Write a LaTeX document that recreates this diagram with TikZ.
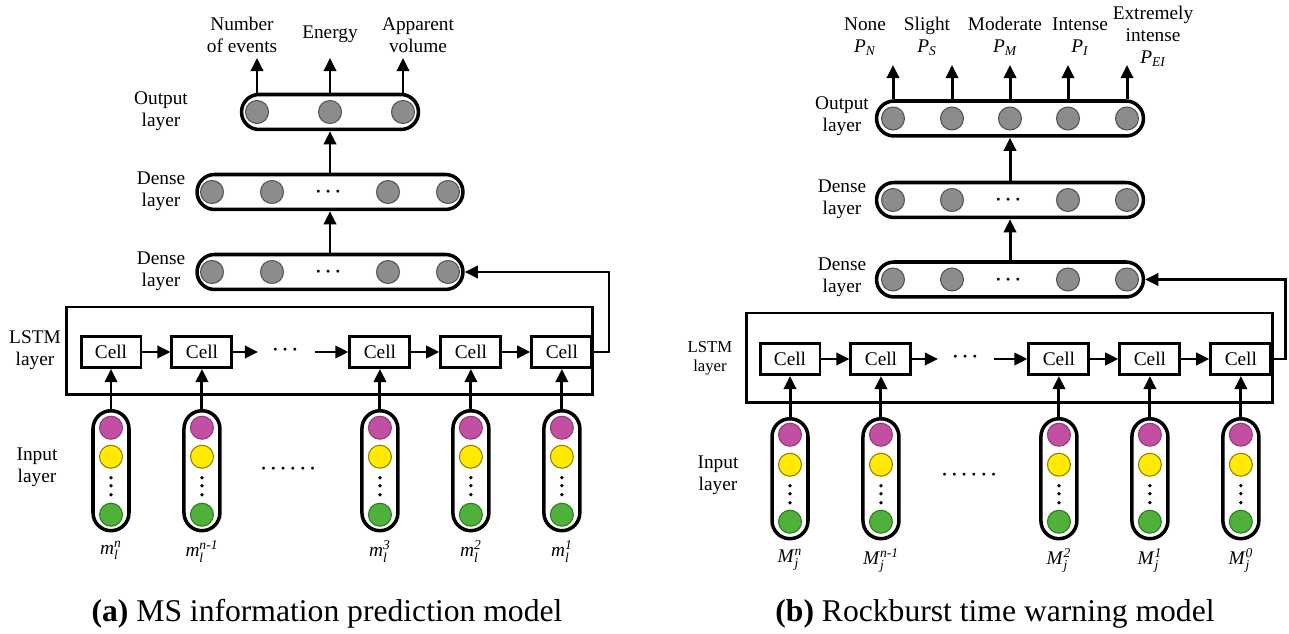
\documentclass[tikz,border=0pt]{standalone}
\usepackage{amsmath,amssymb}
\usepackage{fontspec}
\setmainfont{Liberation Serif}
\usepackage{xcolor}
\usepackage{tikz}
\usetikzlibrary{arrows.meta, positioning, calc}
\definecolor{neurongray}{HTML}{8C8C8C}
\definecolor{neuronedge}{HTML}{505050}
\definecolor{inmagenta}{HTML}{C24FA2}
\definecolor{inmagentaedge}{HTML}{8E3A78}
\definecolor{inyellow}{HTML}{FFEA00}
\definecolor{inyellowedge}{HTML}{8F8000}
\definecolor{ingreen}{HTML}{4FB03A}
\definecolor{ingreenedge}{HTML}{2F7A22}
\tikzstyle{layerpill} = [rectangle, rounded corners=0.35cm, draw=black, line width=2pt, minimum height=0.7cm]
\tikzstyle{neuron} = [circle, fill=neurongray, draw=neuronedge, line width=0.6pt, minimum size=0.46cm, inner sep=0pt]
\tikzstyle{cellbox} = [rectangle, draw=black, line width=1.7pt, minimum width=1.2cm, minimum height=0.62cm,
  inner sep=0pt, font=\fontsize{11}{12.5}\selectfont]
\tikzstyle{lstmbox} = [rectangle, draw=black, line width=1.7pt, minimum width=10.54cm]
\tikzstyle{inpill} = [rectangle, rounded corners=0.36cm, draw=black, line width=2pt, minimum width=0.72cm, minimum height=2.4cm]
\tikzstyle{indot} = [circle, minimum size=0.46cm, inner sep=0pt, line width=0.6pt]
\tikzstyle{vdot} = [circle, fill=black, minimum size=0.075cm, inner sep=0pt]
\tikzstyle{layertext} = [align=center, font=\fontsize{11}{12.5}\selectfont, inner sep=0pt]
\tikzstyle{captext} = [font=\fontsize{18}{20}\selectfont, inner sep=0pt, anchor=base]
\tikzstyle{arrow} = [line width=1.7pt, -{Triangle[length=7.5pt, width=7pt]}]

\begin{document}
\begin{tikzpicture}[x=0.02cm, y=-0.02cm]
  \useasboundingbox (0,0) rectangle (1289,634);

  % (a) MS information prediction model
  \node (oa) [layerpill, minimum width=3.54cm] at (330,112) {};
  \foreach \k/\dx in {1/-73,2/0,3/73}
    \node (oa\k) [neuron] at ($(oa)+(\dx,0)$) {};
  \node (dba) [layerpill, minimum width=5.32cm] at (330,192) {};
  \node (daa) [layerpill, minimum width=5.32cm] at (330,272) {};
  \foreach \k/\dx in {1/-118,2/-58,3/58,4/118} {
    \node (dba\k) [neuron] at ($(dba)+(\dx,0)$) {};
    \node (daa\k) [neuron] at ($(daa)+(\dx,0)$) {};
  }
  \node (dbadots) [layertext] at (dba) {$\boldsymbol{\cdots}$};
  \node (daadots) [layertext] at (daa) {$\boldsymbol{\cdots}$};

  \node (lna1) [layertext] at (242,35) {Number\\of events};
  \node (lna2) [layertext] at (330,34) {Energy};
  \node (lna3) [layertext] at (418,35) {Apparent\\volume};
  \coordinate (tipa) at (0,58);
  \foreach \k in {1,2,3}
    \draw[arrow] (oa\k |- oa.north) -- (oa\k |- tipa);
  \draw[arrow] (dba.north) -- (oa.south);
  \draw[arrow] (daa.north) -- (dba.south);

  \node (loa) [layertext] at (161,111) {Output\\layer};
  \node (ldba) [layertext] at (161,191.5) {Dense\\layer};
  \node (ldaa) [layertext] at (161,271) {Dense\\layer};
  \node (llstma) [layertext] at (35,350) {LSTM\\layer};
  \node (lina) [layertext] at (37,467.5) {Input\\layer};

  \node (lstma) [lstmbox, minimum height=1.76cm] at (329.5,351) {};
  \node (ca1) [cellbox] at (111,352) {Cell};
  \node (ca2) [cellbox, right=0.56cm of ca1] {Cell};
  \node (ca3) [cellbox, right=2.3cm of ca2] {Cell};
  \node (ca4) [cellbox, right=0.56cm of ca3] {Cell};
  \node (ca5) [cellbox, right=0.56cm of ca4] {Cell};
  \coordinate (gapa1) at (258,352);
  \coordinate (gapa2) at (315,352);
  \node (cdotsa) [layertext] at (287,350) {$\boldsymbol{\cdots}$};
  \draw[arrow] (ca1) -- (ca2);
  \draw[arrow] (ca2) -- (gapa1);
  \draw[arrow] (gapa2) -- (ca3);
  \draw[arrow] (ca3) -- (ca4);
  \draw[arrow] (ca4) -- (ca5);
  \coordinate (fba) at (609,352);
  \draw[arrow] (ca5) -- (fba) |- (daa);

  \foreach \i/\s in {1/n,2/n-1,3/3,4/2,5/1} {
    \node (ia\i) [inpill, below=0.8cm of ca\i] {};
    \node (iam\i) [indot, fill=inmagenta, draw=inmagentaedge] at ($(ia\i)+(0,-43)$) {};
    \node (iay\i) [indot, fill=inyellow, draw=inyellowedge] at ($(ia\i)+(0,-14)$) {};
    \node (iag\i) [indot, fill=ingreen, draw=ingreenedge] at ($(ia\i)+(0,44)$) {};
    \foreach \d in {7,15,24}
      \node (iad\i-\d) [vdot] at ($(ia\i)+(0,\d)$) {};
    \draw[arrow] (ia\i) -- (ca\i);
    \node (ma\i) [layertext, below=0.16cm of ia\i] {\textit{m}$^{\textit{\s}}_{\textit{l}}$};
  }
  \node (indotsa) [layertext] at (290,469) {$\boldsymbol{\cdots\cdots}$};

  \node (capa) [captext] at (327,622) {\textbf{(a)} MS information prediction model};

  % (b) Rockburst time warning model
  \node (ob) [layerpill, minimum width=5.34cm] at (1010,118.5) {};
  \foreach \k/\dx in {1/-117,2/-58,3/0,4/58,5/117}
    \node (ob\k) [neuron] at ($(ob)+(\dx,0)$) {};
  \node (dbb) [layerpill, minimum width=5.34cm] at (1010,200) {};
  \node (dab) [layerpill, minimum width=5.34cm] at (1010,279.5) {};
  \foreach \k/\dx in {1/-117,2/-58,3/58,4/117} {
    \node (dbb\k) [neuron] at ($(dbb)+(\dx,0)$) {};
    \node (dab\k) [neuron] at ($(dab)+(\dx,0)$) {};
  }
  \node (dbbdots) [layertext] at (dbb) {$\boldsymbol{\cdots}$};
  \node (dabdots) [layertext] at (dab) {$\boldsymbol{\cdots}$};

  \node (lnb1) [layertext] at (865,36.5) {None\\\textit{P}$_{\textit{N}}$};
  \node (lnb2) [layertext] at (927,36.5) {Slight\\\textit{P}$_{\textit{S}}$};
  \node (lnb3) [layertext] at (1005,36.5) {Moderate\\\textit{P}$_{\textit{M}}$};
  \node (lnb4) [layertext] at (1080,36.5) {Intense\\\textit{P}$_{\textit{I}}$};
  \node (lnb5) [layertext] at (1153,36.5) {Extremely\\intense\\\textit{P}$_{\textit{EI}}$};
  \coordinate (tipb) at (0,65);
  \foreach \k in {1,...,5}
    \draw[arrow] (ob\k |- ob.north) -- (ob\k |- tipb);
  \draw[arrow] (dbb.north) -- (ob.south);
  \draw[arrow] (dab.north) -- (dbb.south);

  \node (lob) [layertext] at (842,116.5) {Output\\layer};
  \node (ldbb) [layertext] at (842,199) {Dense\\layer};
  \node (ldab) [layertext] at (842,277.5) {Dense\\layer};
  \node (llstmb) [layertext, font=\fontsize{9.5}{11}\selectfont] at (710,358) {LSTM\\layer};
  \node (linb) [layertext] at (718,475) {Input\\layer};

  \node (lstmb) [lstmbox, minimum height=1.8cm] at (1009.5,358) {};
  \node (cb1) [cellbox] at (790,359) {Cell};
  \node (cb2) [cellbox, right=0.56cm of cb1] {Cell};
  \node (cb3) [cellbox, right=2.3cm of cb2] {Cell};
  \node (cb4) [cellbox, right=0.56cm of cb3] {Cell};
  \node (cb5) [cellbox, right=0.56cm of cb4] {Cell};
  \coordinate (gapb1) at (938,359);
  \coordinate (gapb2) at (994,359);
  \node (cdotsb) [layertext] at (967,357) {$\boldsymbol{\cdots}$};
  \draw[arrow] (cb1) -- (cb2);
  \draw[arrow] (cb2) -- (gapb1);
  \draw[arrow] (gapb2) -- (cb3);
  \draw[arrow] (cb3) -- (cb4);
  \draw[arrow] (cb4) -- (cb5);
  \coordinate (fbb) at (1285,359);
  \draw[arrow] (cb5) -- (fbb) |- (dab);

  \foreach \i/\s in {1/n,2/n-1,3/2,4/1,5/0} {
    \node (ib\i) [inpill, below=0.82cm of cb\i] {};
    \node (ibm\i) [indot, fill=inmagenta, draw=inmagentaedge] at ($(ib\i)+(0,-44)$) {};
    \node (iby\i) [indot, fill=inyellow, draw=inyellowedge] at ($(ib\i)+(0,-14)$) {};
    \node (ibg\i) [indot, fill=ingreen, draw=ingreenedge] at ($(ib\i)+(0,43)$) {};
    \foreach \d in {7,15,24}
      \node (ibd\i-\d) [vdot] at ($(ib\i)+(0,\d)$) {};
    \draw[arrow] (ib\i) -- (cb\i);
    \node (mb\i) [layertext, below=0.16cm of ib\i] {\textit{M}$^{\textit{\s}}_{\textit{j}}$};
  }
  \node (indotsb) [layertext] at (971,475) {$\boldsymbol{\cdots\cdots}$};

  \node (capb) [captext] at (995,622) {\textbf{(b)} Rockburst time warning model};
\end{tikzpicture}
\end{document}
